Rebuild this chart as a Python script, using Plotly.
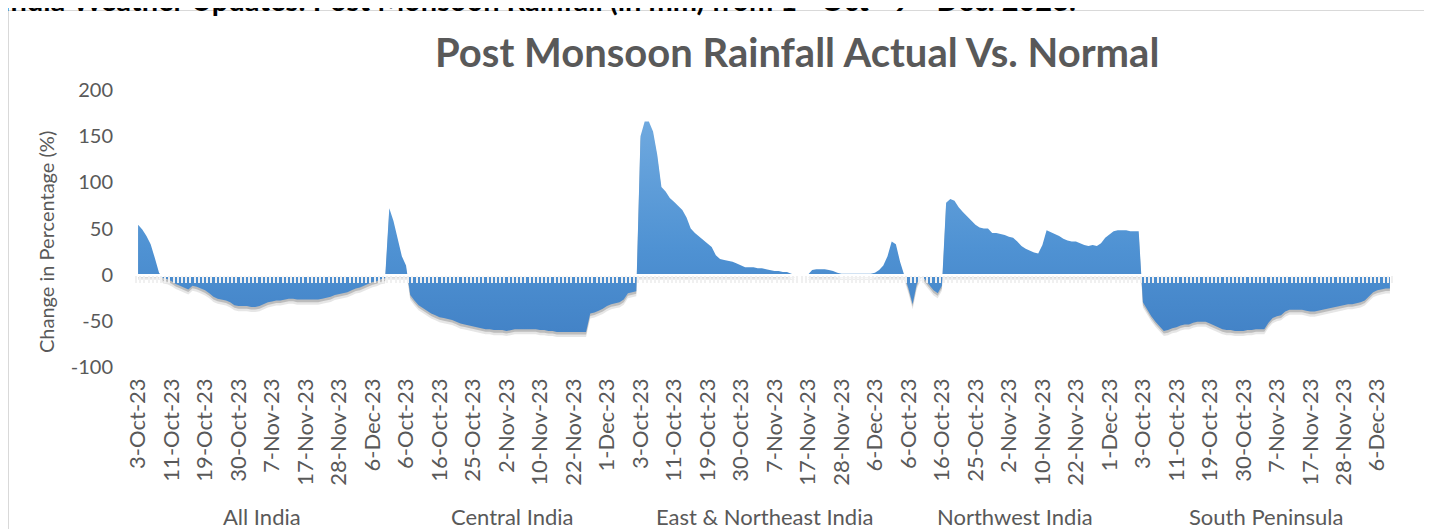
import plotly.graph_objects as go

# ---------------- data ----------------
regions = ["All India", "Central India", "East & Northeast India", "Northwest India", "South Peninsula"]
label_step = 8  # a date label is shown every 8th category

all_india = [54, 49, 42, 33, 18, 2, -4, -5, -7, -10,
             -12, -14, -16, -12, -13, -15, -17, -20, -24, -26,
             -27, -28, -30, -33, -34, -34, -34, -35, -35, -34,
             -32, -30, -29, -28, -28, -27, -26, -26, -27, -27,
             -27, -27, -27, -27, -26, -25, -24, -22, -21, -20,
             -19, -17, -15, -14, -12, -10, -8, -7, -5, -4]
central_india = [72, 58, 40, 20, 10, -22, -28, -33, -36, -39,
                 -42, -44, -46, -47, -48, -49, -51, -53, -54, -55,
                 -56, -57, -58, -59, -59, -60, -60, -60, -61, -60,
                 -59, -59, -59, -59, -59, -59, -60, -60, -61, -61,
                 -62, -62, -62, -62, -62, -62, -62, -62, -42, -41,
                 -39, -37, -34, -32, -31, -30, -27, -20, -19, -18]
east_northeast_india = [150, 166, 166, 155, 130, 95, 90, 83, 79, 75,
                        70, 62, 50, 45, 41, 37, 33, 30, 21, 17,
                        16, 15, 14, 12, 10, 8, 8, 8, 7, 7,
                        6, 5, 4, 4, 3, 3, 1, 0, 0, 0,
                        0, 5, 6, 6, 6, 5, 4, 2, 1, 1,
                        1, 1, 1, 1, 1, 1, 2, 5, 10, 20]
northwest_india = [36, 33, 14, 0, -15, -32, -10, 0, -6, -11,
                   -17, -20, -12, 78, 82, 80, 73, 68, 63, 58,
                   54, 51, 50, 50, 45, 45, 44, 43, 41, 40,
                   36, 31, 28, 26, 24, 23, 32, 48, 46, 44,
                   42, 39, 37, 36, 36, 34, 32, 31, 32, 31,
                   34, 40, 44, 47, 48, 48, 48, 47, 47, 47]
south_peninsula = [-30, -38, -45, -51, -56, -61, -60, -58, -57, -55,
                   -54, -54, -52, -51, -51, -51, -53, -55, -57, -59,
                   -60, -60, -61, -61, -61, -60, -60, -59, -59, -59,
                   -52, -47, -45, -44, -40, -38, -38, -38, -38, -39,
                   -40, -40, -39, -38, -37, -36, -35, -34, -33, -32,
                   -32, -31, -30, -28, -23, -19, -17, -16, -15, -15]

dates_all_india = ["3-Oct-23", "11-Oct-23", "19-Oct-23", "30-Oct-23", "7-Nov-23", "17-Nov-23", "28-Nov-23", "6-Dec-23"]
dates_central_india = ["6-Oct-23", "16-Oct-23", "25-Oct-23", "2-Nov-23", "10-Nov-23", "22-Nov-23", "1-Dec-23"]
dates_east_northeast_india = ["3-Oct-23", "11-Oct-23", "19-Oct-23", "30-Oct-23", "7-Nov-23", "17-Nov-23", "28-Nov-23", "6-Dec-23"]
dates_northwest_india = ["6-Oct-23", "16-Oct-23", "25-Oct-23", "2-Nov-23", "10-Nov-23", "22-Nov-23", "1-Dec-23"]
dates_south_peninsula = ["3-Oct-23", "11-Oct-23", "19-Oct-23", "30-Oct-23", "7-Nov-23", "17-Nov-23", "28-Nov-23", "6-Dec-23"]

y_range = [-100, 200]
y_tick_values = [-100, -50, 0, 50, 100, 150, 200]
y_tick_labels = ["-100", "-50", "0", "50", "100", "150", "200"]

# ---------------- assembly ----------------
series = [all_india, central_india, east_northeast_india, northwest_india, south_peninsula]
date_lists = [dates_all_india, dates_central_india, dates_east_northeast_india,
              dates_northwest_india, dates_south_peninsula]

values = [v for s in series for v in s]
xs = list(range(len(values)))
tickvals = list(range(0, len(values), label_step))
ticktext = [d for dl in date_lists for d in dl]
assert len(tickvals) == len(ticktext)

starts = []
pos = 0
for s in series:
    starts.append(pos)
    pos += len(s)

# the page body has an 8px margin; figure is sized so it ends at the window edge
OFF = 8
W, H = 1432 - OFF, 529 - OFF
L, R, T, B = 136 - OFF, 40, 90 - OFF, 162
plot_w, plot_h = W - L - R, H - T - B


def px_x(p):  # page pixel -> paper fraction
    return (p - OFF - L) / plot_w


def px_y(p):
    return (H - B - (p - OFF)) / plot_h


GRAY = "#595959"
FONT = "Lato"
shadow_far, shadow_near = 5.5, 2.8  # data units, vertical offsets of the soft drop shadow

fig = go.Figure()

# soft drop shadow, outer layer (base axes, shifted y range)
fig.add_trace(go.Scatter(
    x=xs, y=values, mode="lines", fill="tozeroy",
    line=dict(width=0, color="rgba(0,0,0,0)"),
    fillcolor="rgba(60,60,60,0.13)",
    hoverinfo="skip", showlegend=False, xaxis="x", yaxis="y"))

# soft drop shadow, inner layer
fig.add_trace(go.Scatter(
    x=xs, y=values, mode="lines", fill="tozeroy",
    line=dict(width=0, color="rgba(0,0,0,0)"),
    fillcolor="rgba(40,40,40,0.22)",
    hoverinfo="skip", showlegend=False, xaxis="x2", yaxis="y2"))

# main area
fig.add_trace(go.Scatter(
    x=xs, y=values, mode="lines", fill="tozeroy",
    line=dict(width=0, color="#5b9bd5"),
    fillgradient=dict(type="vertical",
                      colorscale=[[0, "#4383c7"], [0.4, "#4f92d3"], [1, "#6fa9df"]]),
    showlegend=False, xaxis="x3", yaxis="y3"))

x_range = [-0.5, len(values) - 0.5]
zero_pos = (0 - y_range[0]) / (y_range[1] - y_range[0])

fig.update_layout(
    width=W, height=H,
    margin=dict(l=L, r=R, t=T, b=B),
    paper_bgcolor="white", plot_bgcolor="rgba(0,0,0,0)",
    font=dict(family=FONT, color=GRAY),
    xaxis=dict(range=x_range, tickmode="array", tickvals=tickvals, ticktext=ticktext,
               tickangle=-90, ticks="", showline=False, showgrid=False, zeroline=False,
               tickfont=dict(size=22, color=GRAY, family=FONT), ticklabelstandoff=6),
    yaxis=dict(range=[y_range[0] + shadow_far, y_range[1] + shadow_far],
               visible=False, showgrid=False, zeroline=False),
    xaxis2=dict(range=x_range, overlaying="x", visible=False),
    yaxis2=dict(range=[y_range[0] + shadow_near, y_range[1] + shadow_near],
                overlaying="y", visible=False),
    xaxis3=dict(range=x_range, overlaying="x", anchor="free", position=zero_pos,
                showline=True, linecolor="white", linewidth=2.5,
                ticks="outside", tickmode="linear", tick0=-0.5, dtick=1,
                ticklen=7, tickwidth=1.6, tickcolor="#f0f0f0",
                showticklabels=False, showgrid=False, zeroline=False),
    yaxis3=dict(range=y_range, overlaying="y", side="left",
                tickmode="array", tickvals=y_tick_values, ticktext=y_tick_labels,
                showgrid=False, zeroline=False, showline=False, ticks="",
                tickfont=dict(size=20, color=GRAY, family=FONT), ticklabelstandoff=22),
)

annotations = []
# region labels
for name, st, s in zip(regions, starts, series):
    annotations.append(dict(
        x=st + (len(s) - 1) / 2, xref="x", y=px_y(516), yref="paper",
        text=name, showarrow=False, xanchor="center", yanchor="middle",
        font=dict(size=22, color=GRAY, family=FONT)))

# y axis title
annotations.append(dict(
    x=px_x(46), xref="paper", y=px_y(242), yref="paper",
    text="Change in Percentage (%)", textangle=-90, showarrow=False,
    xanchor="center", yanchor="middle", font=dict(size=20, color=GRAY, family=FONT)))

# chart title
annotations.append(dict(
    x=px_x(797), xref="paper", y=px_y(52), yref="paper",
    text="<b>Post Monsoon Rainfall Actual Vs. Normal</b>", showarrow=False,
    xanchor="center", yanchor="middle", font=dict(size=40, color=GRAY, family=FONT)))

# cut-off page heading above the chart
annotations.append(dict(
    x=px_x(0), xref="paper", y=px_y(19), yref="paper",
    text="<b>India Weather Updates: Post Monsoon Rainfall (in mm) from 1<sup>st</sup> Oct - 9<sup>th</sup> Dec. 2023.</b>",
    showarrow=False, xanchor="left", yanchor="bottom",
    font=dict(size=29, color="black", family=FONT)))

fig.update_layout(annotations=annotations)

# chart frame
fig.add_shape(type="rect", xref="paper", yref="paper",
              x0=px_x(8.5), x1=px_x(1427.5), y0=px_y(560), y1=px_y(10.5),
              line=dict(color="#d9d9d9", width=1), fillcolor="rgba(0,0,0,0)", layer="below")

fig.write_html("out.html")
